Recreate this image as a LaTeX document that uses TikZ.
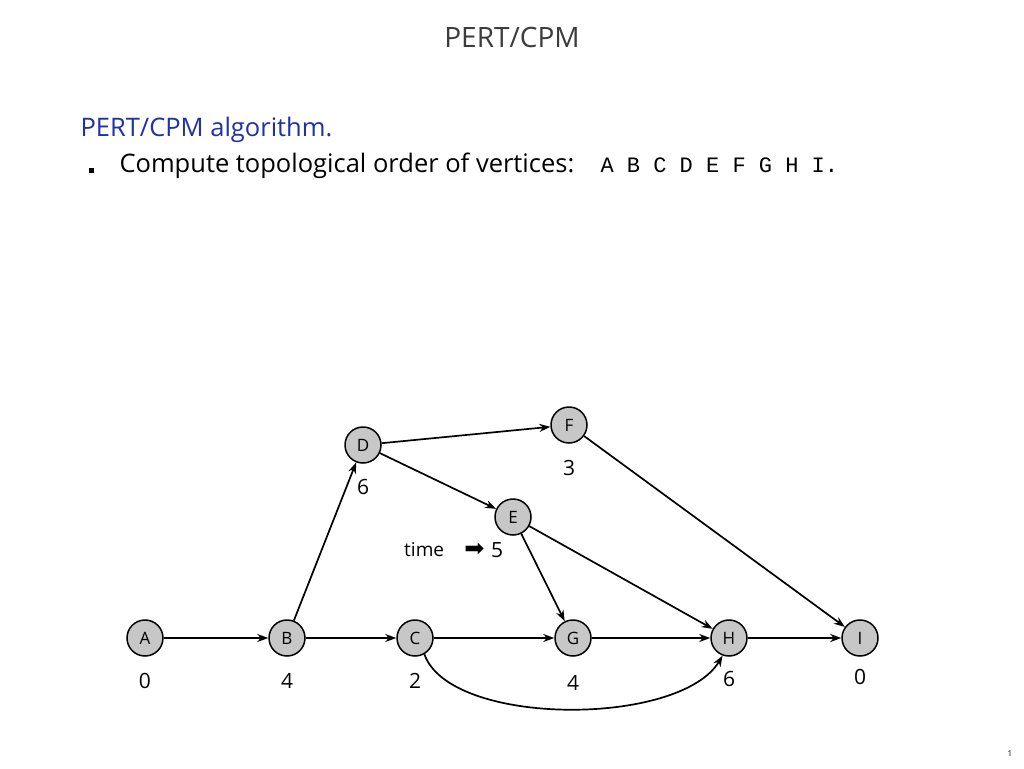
\documentclass[tikz,border=0pt]{standalone}
\usepackage{fontspec}
\setmainfont{Open Sans}
\setmonofont{Liberation Mono}
\newfontfamily\symfont{DejaVu Sans}
\usetikzlibrary{positioning}
\usetikzlibrary{arrows.meta}

\definecolor{slideblue}{RGB}{30,50,165}
\definecolor{titlegray}{RGB}{60,60,60}

\begin{document}
\begin{tikzpicture}[x=1pt,y=-1pt]
	\tikzset{
		vertex/.style={circle, draw=black, line width=1.5pt, fill=black!22, minimum size=36pt, inner sep=0pt, font=\fontsize{17}{17}\selectfont},
		weight/.style={inner sep=0pt, font=\fontsize{21}{21}\selectfont},
		edge/.style={-{Stealth[length=11pt,width=8pt]}, line width=1.7pt},
	}
	\useasboundingbox (0,0) rectangle (1024,768);

	\node[anchor=base, text=titlegray, font=\fontsize{28}{28}\selectfont] (title) at (512,48) {PERT/CPM};
	\node[anchor=base west, text=slideblue, font=\fontsize{25.5}{25.5}\selectfont] (head) at (77,136) {PERT/CPM algorithm.};
	\node[fill=black, minimum size=5pt, inner sep=0pt] (bullet) at (91,170) {};
	\node[anchor=base west, font=\fontsize{25.5}{25.5}\selectfont] (step) at (116,172) {Compute topological order of vertices:};
	\node[anchor=base west, font=\ttfamily\fontsize{22}{22}\selectfont] (order) at (597,172) {A B C D E F G H I.};

	\node[vertex] (A) at (145,638) {A};
	\node[vertex] (B) at (287,638) {B};
	\node[vertex] (C) at (415,638) {C};
	\node[vertex] (G) at (573,638) {G};
	\node[vertex] (H) at (729,638) {H};
	\node[vertex] (I) at (860,638) {I};
	\node[vertex] (D) at (363,445) {D};
	\node[vertex] (F) at (569,425) {F};
	\node[vertex] (E) at (513,517) {E};

	\node[weight, below=16pt of A] (wA) {0};
	\node[weight, below=16pt of B] (wB) {4};
	\node[weight, below=16pt of C] (wC) {2};
	\node[weight, below=18pt of G] (wG) {4};
	\node[weight, below=14pt of H] (wH) {6};
	\node[weight, below=12pt of I] (wI) {0};
	\node[weight, below=15pt of D] (wD) {6};
	\node[weight, below=16pt of F] (wF) {3};
	\node[weight] (wE) at (497,550) {5};
	\node[inner sep=0pt, font=\symfont\fontsize{24}{24}\selectfont, left=6pt of wE] (pointer) {➡};
	\node[inner sep=0pt, font=\fontsize{19}{19}\selectfont, left=20pt of pointer] (time) {time};

	\draw[edge] (A) -- (B);
	\draw[edge] (B) -- (C);
	\draw[edge] (C) -- (G);
	\draw[edge] (G) -- (H);
	\draw[edge] (H) -- (I);
	\draw[edge] (B) -- (D);
	\draw[edge] (D) -- (F);
	\draw[edge] (D) -- (E);
	\draw[edge] (E) -- (G);
	\draw[edge] (E) -- (H);
	\draw[edge] (F) -- (I);
	\draw[edge] (C.300) .. controls (450,727) and (680,727) .. (H.250);

	\node[font=\fontsize{8}{8}\selectfont] (page) at (1010,754) {1};
\end{tikzpicture}
\end{document}
